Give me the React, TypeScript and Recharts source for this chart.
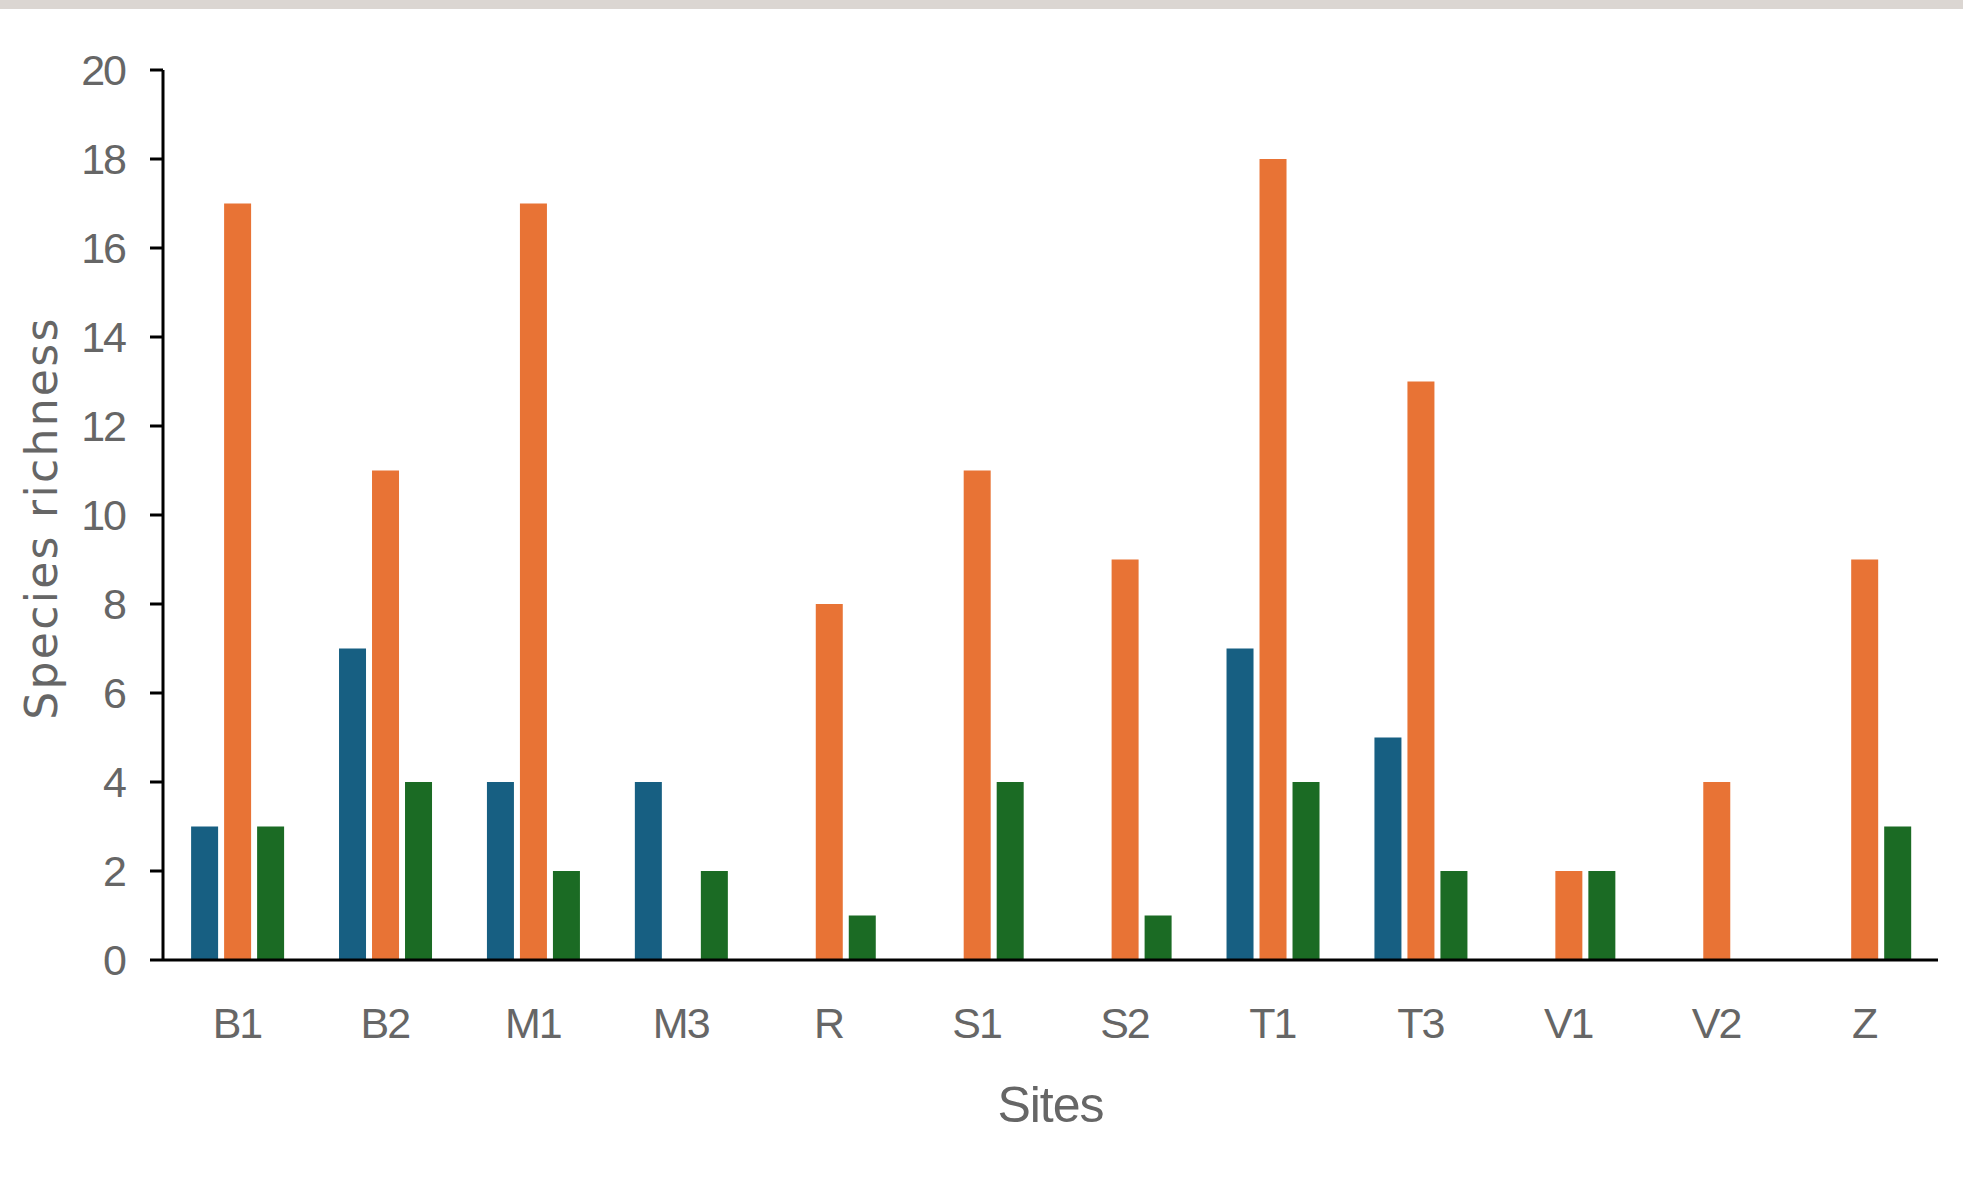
import React from 'react';
import { BarChart, Bar, XAxis, YAxis } from 'recharts';

const sites = ['B1', 'B2', 'M1', 'M3', 'R', 'S1', 'S2', 'T1', 'T3', 'V1', 'V2', 'Z'];
const seriesBlue = [3, 7, 4, 4, 0, 0, 0, 7, 5, 0, 0, 0];
const seriesOrange = [17, 11, 17, 0, 8, 11, 9, 18, 13, 2, 4, 9];
const seriesGreen = [3, 4, 2, 2, 1, 4, 1, 4, 2, 2, 0, 3];
const yTicks = [0, 2, 4, 6, 8, 10, 12, 14, 16, 18, 20];

const data = sites.map((s, i) => ({
  site: s,
  blue: seriesBlue[i],
  orange: seriesOrange[i],
  green: seriesGreen[i],
}));

const TICK_FONT = '"Liberation Sans Narrow", "Liberation Sans", Arial, sans-serif';

const YLabel = (props: any) => {
  const vb = props.viewBox || {};
  const cx = 57;
  const cy = (vb.y ?? 70) + (vb.height ?? 890) / 2 + 3;
  return (
    <text
      x={cx}
      y={cy}
      transform={`rotate(-90, ${cx}, ${cy})`}
      textAnchor="middle"
      fill="#666"
      fontSize={44}
      letterSpacing={2.3}
      fontFamily='"DejaVu Sans", sans-serif'
    >
      Species richness
    </text>
  );
};

const XLabel = (props: any) => {
  const vb = props.viewBox || {};
  const cx = (vb.x ?? 163) + (vb.width ?? 1775) / 2;
  return (
    <text x={cx} y={1122} textAnchor="middle" fill="#666" fontSize={50} letterSpacing={-1} fontFamily={TICK_FONT}>
      Sites
    </text>
  );
};

const tickStyle = { fontSize: 43, fill: '#666', fontFamily: TICK_FONT, letterSpacing: -2 };

export default function App() {
  return (
    <div style={{ position: 'absolute', left: 0, top: 0, width: 1963, height: 1195, background: '#fff' }}>
      <div style={{ position: 'absolute', left: 0, top: 0, width: 1963, height: 9, background: '#dbd6d2' }} />
      <BarChart
        width={1963}
        height={1195}
        data={data}
        margin={{ top: 70, right: 25, left: 0, bottom: 0 }}
        barCategoryGap="19%"
        barGap={6}
      >
        <XAxis
          dataKey="site"
          height={235}
          axisLine={{ stroke: '#000', strokeWidth: 3 }}
          tickLine={false}
          tickSize={0}
          tickMargin={47}
          tick={tickStyle}
          interval={0}
          label={<XLabel />}
        />
        <YAxis
          width={163}
          domain={[0, 20]}
          ticks={yTicks}
          interval={0}
          axisLine={{ stroke: '#000', strokeWidth: 3 }}
          tickLine={{ stroke: '#000', strokeWidth: 3 }}
          tickSize={13}
          tickMargin={25}
          tick={tickStyle}
          label={<YLabel />}
        />
        <Bar dataKey="blue" fill="#175f82" isAnimationActive={false} />
        <Bar dataKey="orange" fill="#e87335" isAnimationActive={false} />
        <Bar dataKey="green" fill="#1b6b24" isAnimationActive={false} />
      </BarChart>
    </div>
  );
}
